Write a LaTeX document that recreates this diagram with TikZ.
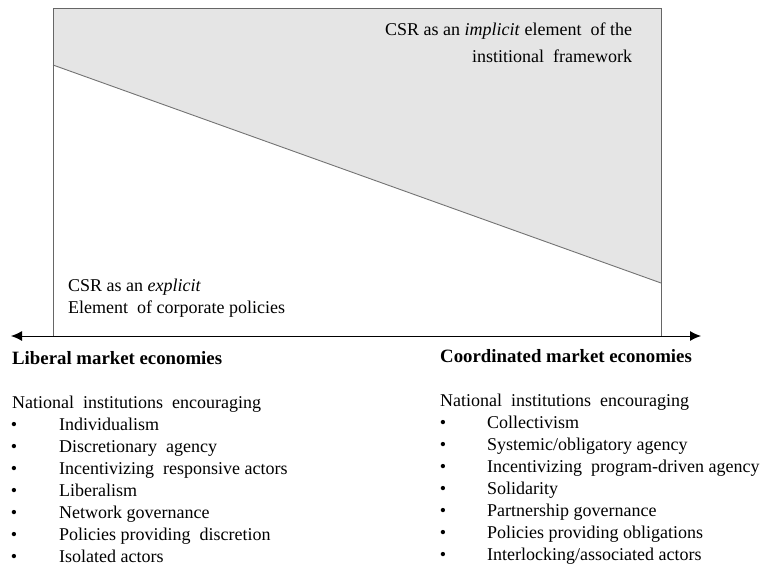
\documentclass[tikz,border=0pt]{standalone}
\usepackage{fontspec}
\setmainfont{Liberation Serif}
\usetikzlibrary{arrows.meta}
\begin{document}
\begin{tikzpicture}[x=1pt,y=-1pt,
  txt/.style={anchor=base west,inner sep=0pt,font=\fontsize{18}{22}\selectfont},
  head/.style={txt,font=\fontsize{18.8}{22}\selectfont\bfseries},
  bul/.style={anchor=base,inner sep=0pt,font=\fontsize{18}{22}\selectfont},
  frame/.style={draw=black!60,line width=1pt},
  axis/.style={draw=black,line width=1pt,{Latex[length=11pt,width=10pt]}-{Latex[length=11pt,width=10pt]}}]
\useasboundingbox (0,0) rectangle (766,567);

% frame corners and the dividing line
\coordinate (tl) at (53,9);
\coordinate (tr) at (661,9);
\coordinate (bl) at (53,336);
\coordinate (br) at (661,336);
\coordinate (dl) at (53,65);
\coordinate (dr) at (661,283);

% shaded region above the dividing line
\fill[black!10] (tl) -- (tr) -- (dr) -- (dl) -- cycle;
\draw[draw=black!55,line width=0.9pt] (dl) -- (dr);
\draw[frame] (bl) -- (tl) -- (tr) -- (br);

% horizontal double-headed axis
\coordinate (lm) at (11,336);
\coordinate (cm) at (701,336);
\draw[axis] (lm) -- (cm);

% labels inside the frame
\node[txt] (imp1) at (385,36) {CSR as an \textit{implicit} element \ of the};
\node[txt] (imp2) at (472,63) {institional \ framework};
\node[txt] (exp1) at (68,291) {CSR as an \textit{explicit}};
\node[txt] (exp2) at (68,313) {Element \ of corporate policies};

% axis end labels
\node[head] (lme) at (12,364) {Liberal market economies};
\node[head] (cme) at (440,362) {Coordinated market economies};

% left list
\node[txt] (lt) at (12,408) {National \ institutions \ encouraging};
\foreach \t [count=\i] in {Individualism, Discretionary \ agency, Incentivizing \ responsive actors, Liberalism, Network governance, Policies providing \ discretion, Isolated actors}{
  \node[bul] (lb\i) at (14,408+22.1*\i) {\textbullet};
  \node[txt] (li\i) at (59,408+22.1*\i) {\t};
}

% right list
\node[txt] (rt) at (440,406) {National \ institutions \ encouraging};
\foreach \t [count=\i] in {Collectivism, Systemic/obligatory agency, Incentivizing \ program-driven agency, Solidarity, Partnership governance, Policies providing obligations, Interlocking/associated actors}{
  \node[bul] (rb\i) at (443,406+22.1*\i) {\textbullet};
  \node[txt] (ri\i) at (487,406+22.1*\i) {\t};
}
\end{tikzpicture}
\end{document}
